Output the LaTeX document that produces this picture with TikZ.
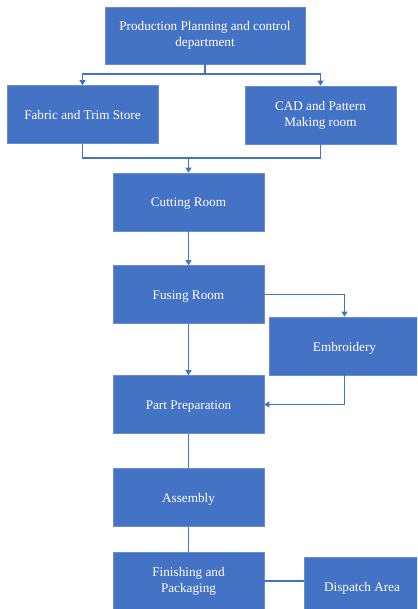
\documentclass[tikz,border=0pt]{standalone}
\usepackage{fontspec}
\setmainfont{Liberation Serif}
\usetikzlibrary{arrows.meta}
\definecolor{bx}{HTML}{4472C4}
\begin{document}
\begin{tikzpicture}[x=1pt,y=-1pt,
  box/.style={fill=bx,draw=bx!80!white,line width=0.6pt,text=white,align=center,
    font=\fontsize{13.2}{16}\selectfont,inner sep=0pt,minimum height=58pt,
    execute at begin node={\rule{0pt}{13pt}},
    execute at end node={\rule[-3pt]{0pt}{3pt}}},
  conn/.style={draw=bx,line width=1.2pt},
  arr/.style={conn,-{Triangle[length=5pt,width=6pt]}}]
\clip (0,0) rectangle (417,609);
\fill[white] (0,0) rectangle (417,609);
\node[box,minimum width=200pt,minimum height=57pt] (ppc) at (205,35.5) {Production Planning and control\\department};
\node[box,minimum width=151pt] (fab) at (82.5,114.5) {Fabric and Trim Store};
\node[box,minimum width=151pt] (cad) at (320.5,115) {CAD and Pattern\\Making room};
\node[box,minimum width=151pt] (cut) at (188.5,202) {Cutting Room};
\node[box,minimum width=151pt] (fus) at (188.5,294.5) {Fusing Room};
\node[box,minimum width=151pt] (emb) at (344.5,346) {Embroidery};
\node[box,minimum width=151pt] (pp) at (188.5,404.5) {Part Preparation};
\node[box,minimum width=151pt] (asm) at (188.5,497) {Assembly};
\node[box,minimum width=151pt] (fin) at (188.5,581) {Finishing and\\Packaging};
\node[box,minimum width=116pt] (dis) at (362,586) {Dispatch Area};
\coordinate (j0) at (205,74);
\coordinate (j1) at (188.5,158);
\draw[conn] (ppc.south) -- (j0);
\draw[arr] (j0) -| (fab.north);
\draw[arr] (j0) -| (cad.north);
\draw[conn] (fab.south) |- (j1) -| (cad.south);
\draw[arr] (j1) -- (cut.north);
\draw[arr] (cut.south) -- (fus.north);
\draw[arr] (fus.east) -| (emb.north);
\draw[arr] (fus.south) -- (pp.north);
\draw[arr] (emb.south) |- (pp.east);
\draw[conn] (pp.south) -- (asm.north);
\draw[conn] (asm.south) -- (fin.north);
\draw[conn] (fin.east) -- (fin.east -| dis.west);
\end{tikzpicture}
\end{document}
